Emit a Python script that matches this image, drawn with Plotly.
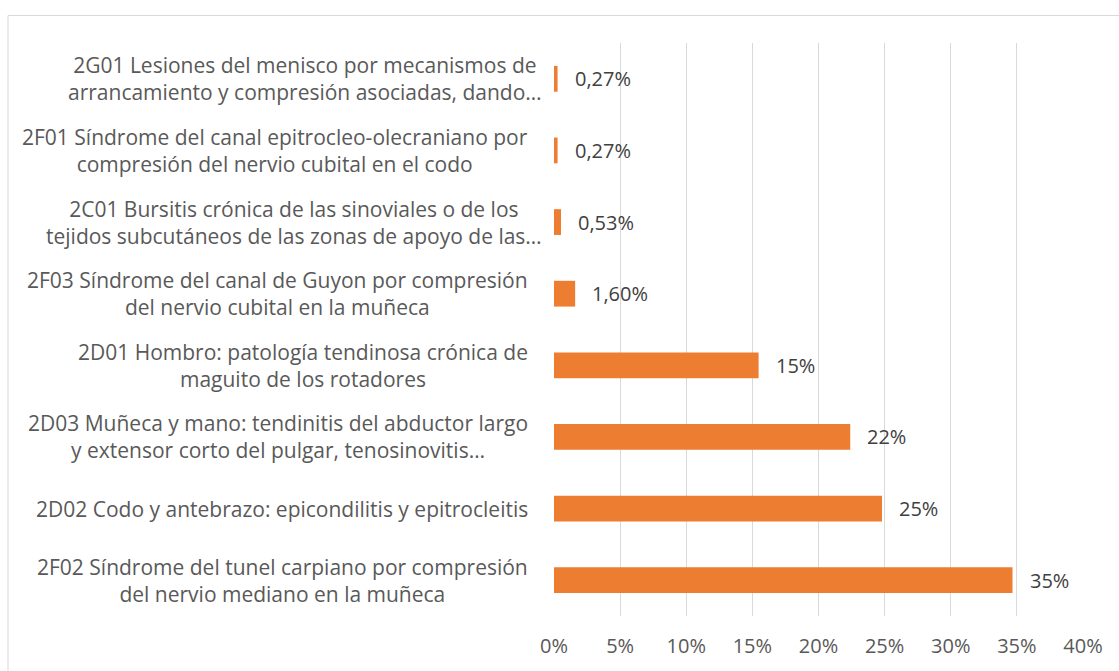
import plotly.graph_objects as go

categories = [
    "2G01 Lesiones del menisco por mecanismos de<br>arrancamiento y compresión asociadas, dando…",
    "2F01 Síndrome del canal epitrocleo-olecraniano por<br>compresión del nervio cubital en el codo",
    "2C01 Bursitis crónica de las sinoviales o de los<br>tejidos subcutáneos de las zonas de apoyo de las…",
    "2F03 Síndrome del canal de Guyon por compresión<br>del nervio cubital en la muñeca",
    "2D01 Hombro: patología tendinosa crónica de<br>maguito de los rotadores",
    "2D03 Muñeca y mano: tendinitis del abductor largo<br>y extensor corto del pulgar, tenosinovitis…",
    "2D02 Codo y antebrazo: epicondilitis y epitrocleitis",
    "2F02 Síndrome del tunel carpiano por compresión<br>del nervio mediano en la muñeca",
]
values = [0.27, 0.27, 0.53, 1.60, 15.47, 22.4, 24.8, 34.67]
value_labels = ["0,27%", "0,27%", "0,53%", "1,60%", "15%", "22%", "25%", "35%"]
tick_vals = [0, 5, 10, 15, 20, 25, 30, 35, 40]
tick_text = ["0%", "5%", "10%", "15%", "20%", "25%", "30%", "35%", "40%"]

FONT = "Open Sans"
TXT = "#595959"
FS = 20
FS_CAT = 21

W, H = 1119, 671
ML, MR, MT, MB = 554, 36, 43, 45
PW, PH = W - ML - MR, H - MT - MB

fig = go.Figure(go.Bar(
    x=values, y=categories, orientation="h",
    marker=dict(color="#ED7D31", line=dict(width=0)),
    hoverinfo="skip",
))

annotations = []
for c, v, t in zip(categories, values, value_labels):
    annotations.append(dict(
        x=v, y=c, xref="x", yref="y", text=t, showarrow=False,
        xanchor="left", yanchor="middle", xshift=15,
        font=dict(family=FONT, size=FS, color="#404040"),
    ))
    lines = c.split("<br>")
    # truncated (ellipsis) last line that is the longest overflows to the right
    overflow = lines[-1].endswith("…") and len(lines[-1]) >= max(len(s) for s in lines)
    annotations.append(dict(
        x=-24 / PW, y=c, xref="paper", yref="y", text=c, showarrow=False,
        xanchor="right", yanchor="middle", align="center",
        xshift=14 if overflow else 0,
        font=dict(family=FONT, size=FS_CAT, color=TXT),
    ))

fig.update_layout(
    width=W, height=H,
    margin=dict(l=ML, r=MR, t=MT, b=MB),
    paper_bgcolor="white", plot_bgcolor="white",
    bargap=0.64,
    showlegend=False,
    font=dict(family=FONT, size=FS, color=TXT),
    xaxis=dict(
        range=[0, 40], tickvals=tick_vals, ticktext=tick_text,
        showgrid=True, gridcolor="#d9d9d9", gridwidth=1,
        zeroline=False, showline=False, ticks="",
        ticklabelstandoff=16,
        tickfont=dict(family=FONT, size=FS, color=TXT),
    ),
    yaxis=dict(
        autorange="reversed", showticklabels=False, showgrid=False,
        zeroline=False, showline=False, ticks="",
    ),
    annotations=annotations,
    shapes=[dict(
        type="rect", xref="paper", yref="paper",
        x0=(8 - ML) / PW, x1=1.2, y0=-0.2, y1=(H - MB - 15) / PH,
        line=dict(color="#d9d9d9", width=1), fillcolor="rgba(0,0,0,0)",
        layer="below",
    )],
)

fig.write_html(
    "out.html",
    config={"displayModeBar": False, "staticPlot": True},
    post_script="document.body.style.margin='0';document.body.style.overflow='hidden';",
)
